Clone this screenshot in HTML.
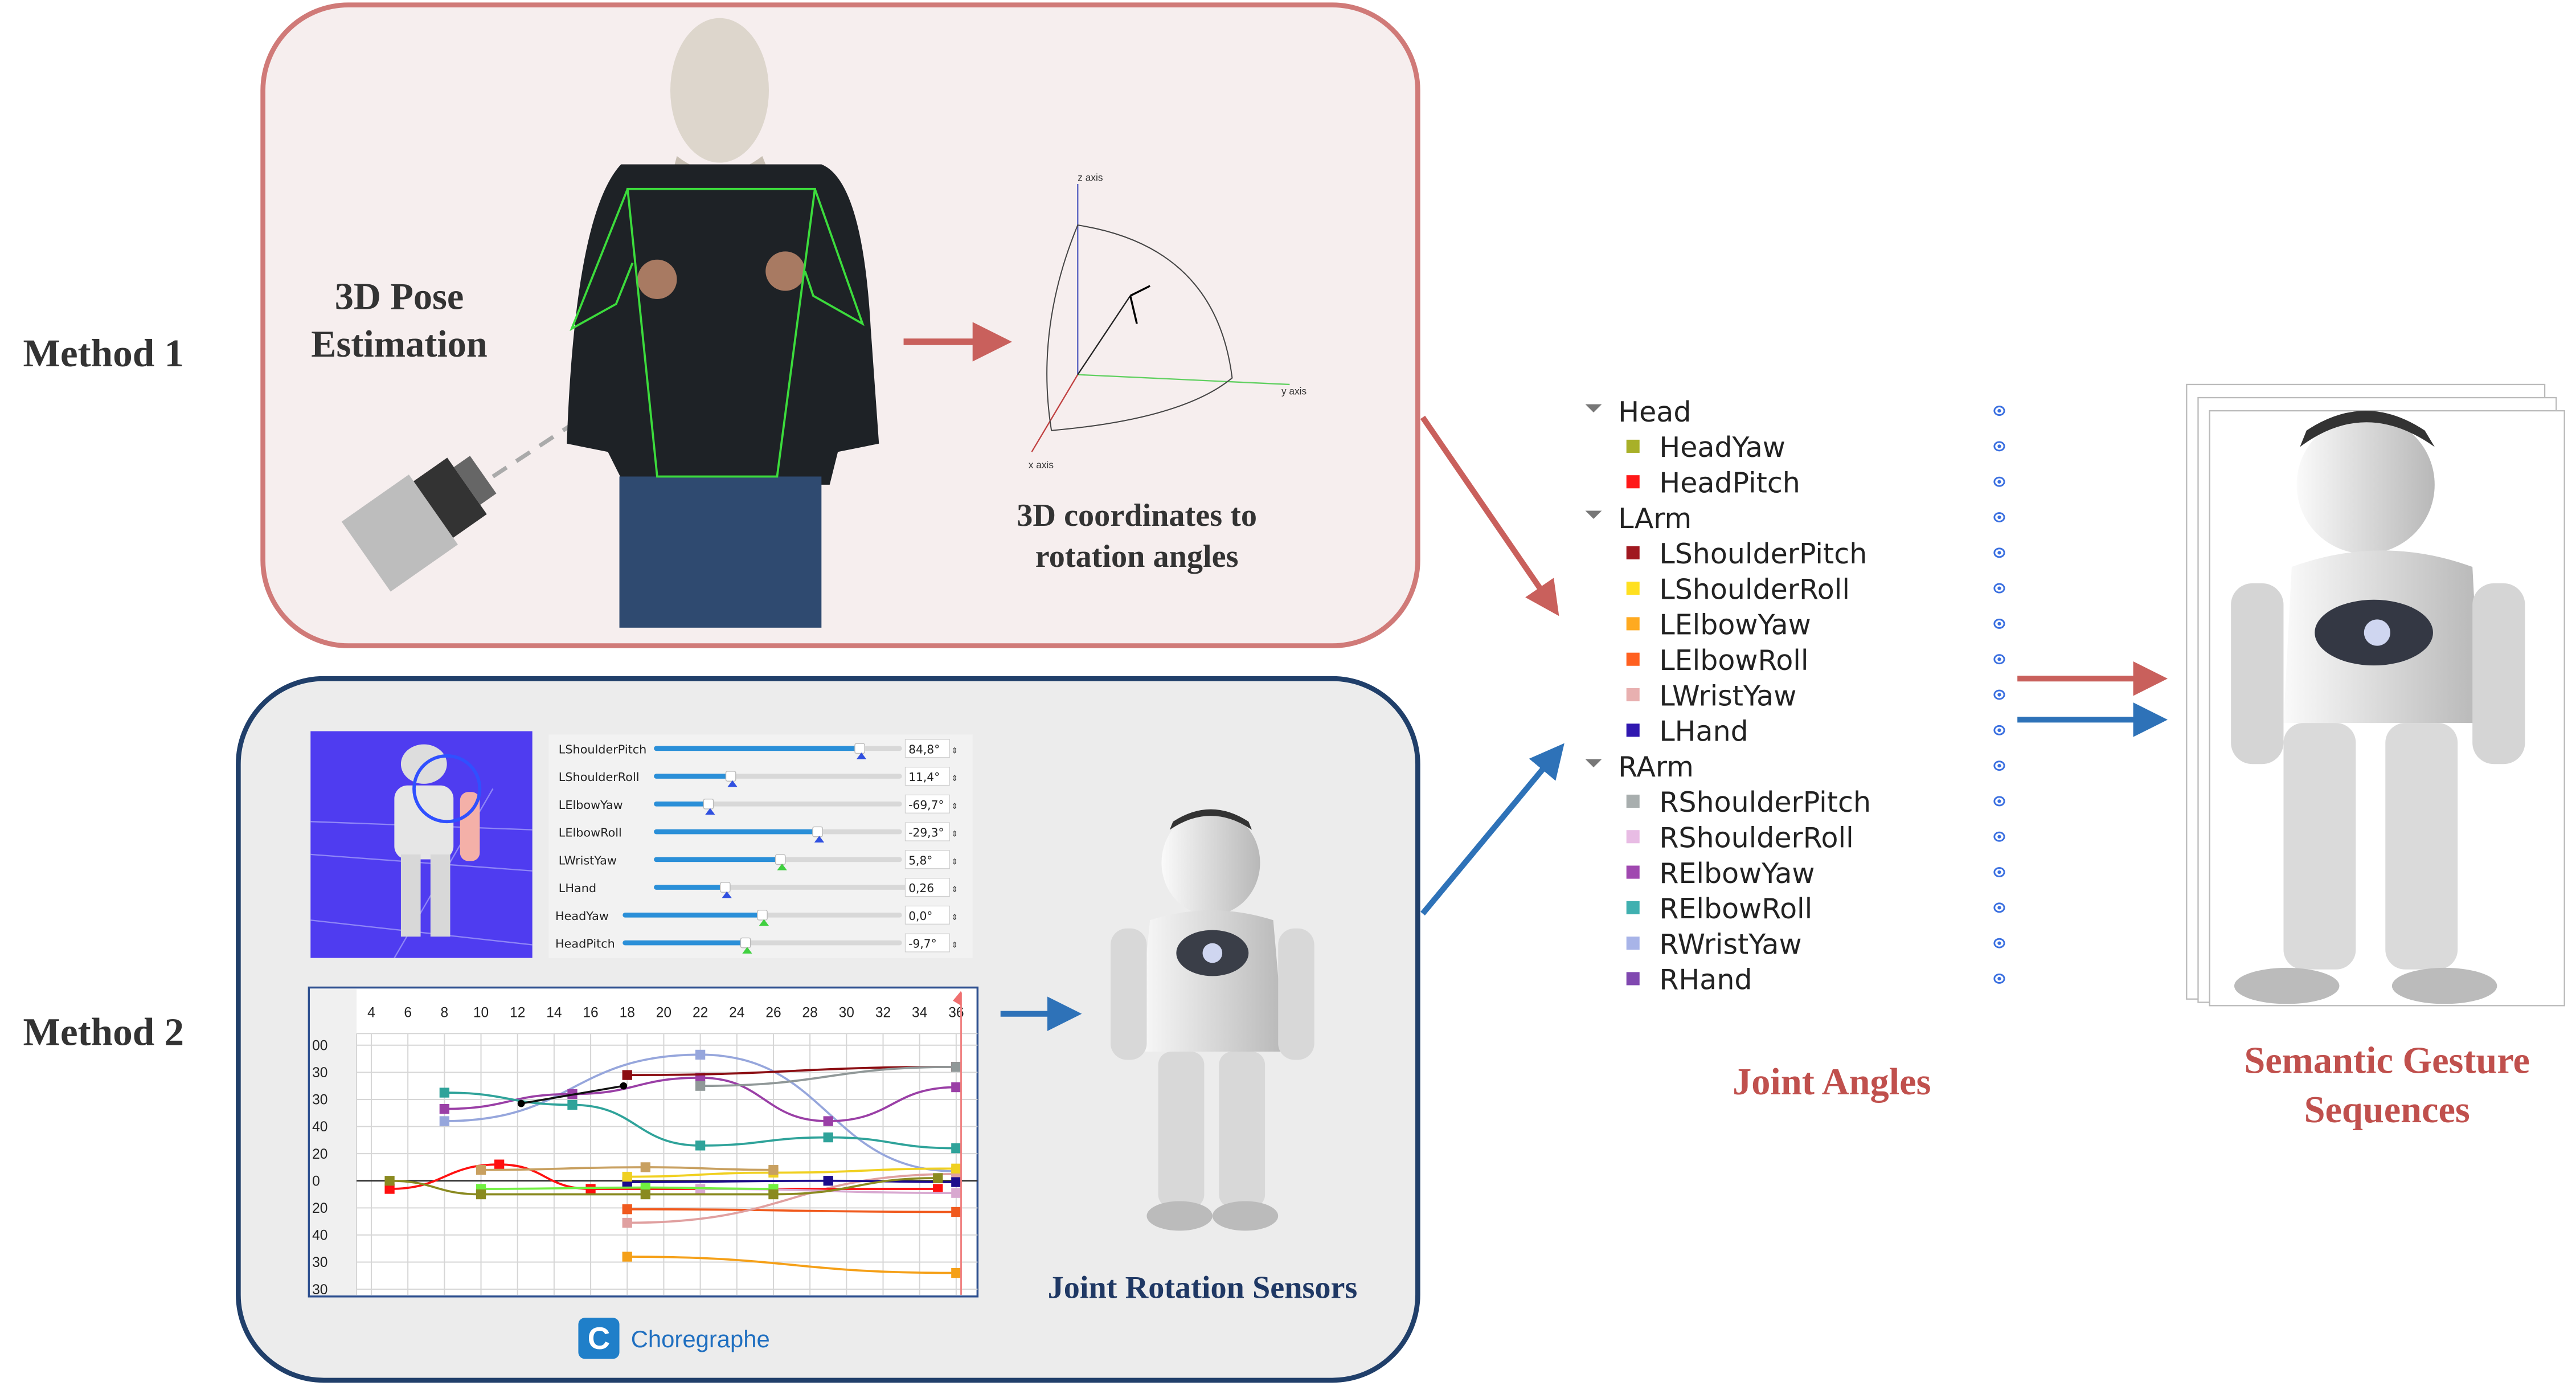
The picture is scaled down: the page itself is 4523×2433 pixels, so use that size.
<!DOCTYPE html>
<html><head><meta charset="utf-8"><style>
html,body{margin:0;padding:0;background:#fff;}
svg{display:block;}
.ser{font-family:"Liberation Serif",serif;font-weight:bold;}
.sans{font-family:"DejaVu Sans","Liberation Sans",sans-serif;}
</style></head><body>
<svg id="root" width="4523" height="2433" viewBox="0 0 1568 843.5" xmlns="http://www.w3.org/2000/svg">
<defs>
<marker id="ar" markerWidth="6" markerHeight="6" refX="5" refY="3" orient="auto" markerUnits="strokeWidth"><path d="M0,0 L6,3 L0,6 z" fill="#c9605c"/></marker>
<marker id="ab" markerWidth="6" markerHeight="6" refX="5" refY="3" orient="auto" markerUnits="strokeWidth"><path d="M0,0 L6,3 L0,6 z" fill="#2e72b8"/></marker>
<linearGradient id="rg" x1="0" x2="1"><stop offset="0" stop-color="#fafafa"/><stop offset="1" stop-color="#b8b8b8"/></linearGradient>
</defs>

<text class="ser" x="14" y="223" font-size="24" fill="#333">Method 1</text>
<text class="ser" x="14" y="636" font-size="24" fill="#333">Method 2</text>

<g>
<rect x="160" y="3" width="703" height="390" rx="52" fill="#f6eeee" stroke="#d07a78" stroke-width="3"/>
<text class="ser" x="243" y="188" font-size="23" text-anchor="middle" fill="#333">3D Pose</text>
<text class="ser" x="243" y="217" font-size="23" text-anchor="middle" fill="#333">Estimation</text>
<g>
<g transform="rotate(-35 255 315)"><rect x="215" y="290" width="50" height="52" fill="#bdbdbd"/><rect x="265" y="295" width="25" height="42" fill="#333"/><rect x="290" y="302" width="12" height="28" fill="#666"/></g>
<line x1="300" y1="290" x2="440" y2="198" stroke="#aaa" stroke-width="2.5" stroke-dasharray="10,7"/>
</g>
<g>
<ellipse cx="438" cy="55" rx="30" ry="44" fill="#ddd6cc"/>
<path d="M412 95 Q438 115 464 95 L470 110 L408 110z" fill="#c8bfb3"/>
<path d="M378 100 L500 100 Q525 110 530 200 L535 270 L510 275 L505 295 L380 295 L370 275 L345 270 Q350 130 378 100z" fill="#1e2226"/>
<rect x="377" y="290" width="123" height="92" fill="#2f4a70"/>
<circle cx="400" cy="170" r="12" fill="#a87a62"/><circle cx="478" cy="165" r="12" fill="#a87a62"/>
<g stroke="#3cdc3c" stroke-width="1.3" fill="none"><path d="M382 115 L496 115 L473 290 L400 290z"/><path d="M382 115 L348 200 L375 185 L385 160"/><path d="M496 115 L525 197 L495 180 L490 165"/></g>
</g>
<line x1="550" y1="208" x2="612" y2="208" stroke="#c9605c" stroke-width="4" marker-end="url(#ar)"/>
<g font-family="Liberation Sans,sans-serif" font-size="6" fill="#333">
<line x1="656" y1="112" x2="656" y2="228" stroke="#5560c0" stroke-width="0.8"/>
<line x1="656" y1="228" x2="785" y2="234" stroke="#60d060" stroke-width="0.8"/>
<line x1="656" y1="228" x2="628" y2="275" stroke="#c04040" stroke-width="0.8"/>
<path d="M656 137 Q740 150 750 230 Q720 255 640 262 Q630 200 656 137z" fill="none" stroke="#444" stroke-width="0.7"/>
<line x1="656" y1="228" x2="688" y2="180" stroke="#222" stroke-width="0.8"/>
<path d="M688 180 L700 174 M688 180 L692 197" stroke="#000" stroke-width="1.2"/>
<text x="656" y="110">z axis</text><text x="780" y="240">y axis</text><text x="626" y="285">x axis</text>
</g>
<text class="ser" x="692" y="320" font-size="19.5" text-anchor="middle" fill="#333">3D coordinates to</text>
<text class="ser" x="692" y="345" font-size="19.5" text-anchor="middle" fill="#333">rotation angles</text>
</g>

<g>
<rect x="145" y="413" width="718" height="427" rx="52" fill="#ececec" stroke="#203f6a" stroke-width="3"/>
<g>
<rect x="189" y="445" width="135" height="138" fill="#4f3cf0"/>
<g stroke="#8f86f7" stroke-width="0.8"><line x1="189" y1="560" x2="324" y2="575"/><line x1="189" y1="520" x2="324" y2="530"/><line x1="189" y1="500" x2="324" y2="505"/><line x1="240" y1="583" x2="300" y2="480"/></g>
<ellipse cx="258" cy="465" rx="14" ry="12" fill="#ddd"/>
<rect x="240" y="478" width="36" height="45" rx="8" fill="#e6e6e6"/>
<rect x="244" y="520" width="12" height="50" fill="#d8d8d8"/><rect x="262" y="520" width="12" height="50" fill="#d8d8d8"/>
<rect x="280" y="482" width="12" height="42" rx="5" fill="#f4b0a8"/>
<circle cx="272" cy="480" r="20" fill="none" stroke="#3050ff" stroke-width="2"/>
</g>
<g id="sliders" class="sans"></g>
<g id="chart"></g>
<g>
<rect x="352" y="802" width="25" height="25" rx="4" fill="#1f7fc9"/>
<text x="364.5" y="821" font-family="Liberation Sans,sans-serif" font-size="19" font-weight="bold" text-anchor="middle" fill="#fff">C</text>
<text x="384" y="820" font-family="Liberation Sans,sans-serif" font-size="14.5" fill="#1f6fc0">Choregraphe</text>
</g>
<line x1="609" y1="617" x2="655" y2="617" stroke="#2e72b8" stroke-width="3.5" marker-end="url(#ab)"/>
<g>
<ellipse cx="737" cy="525" rx="30" ry="32" fill="url(#rg)"/>
<path d="M712 505 Q737 488 762 505 L760 500 Q737 485 714 500z" fill="#333"/>
<path d="M700 560 Q737 548 775 560 L782 640 L692 640z" fill="url(#rg)"/>
<ellipse cx="738" cy="580" rx="22" ry="14" fill="#3a3e48"/>
<circle cx="738" cy="580" r="6" fill="#cfd6f0"/>
<rect x="676" y="565" width="22" height="80" rx="10" fill="#d8d8d8"/><rect x="778" y="565" width="22" height="80" rx="10" fill="#d8d8d8"/>
<rect x="705" y="640" width="28" height="95" rx="8" fill="#d8d8d8"/><rect x="742" y="640" width="28" height="95" rx="8" fill="#d8d8d8"/>
<ellipse cx="718" cy="740" rx="20" ry="9" fill="#bbb"/><ellipse cx="758" cy="740" rx="20" ry="9" fill="#bbb"/>
</g>
<text class="ser" x="732" y="790" font-size="19.5" text-anchor="middle" fill="#1f3864">Joint Rotation Sensors</text>
</g>

<line x1="866" y1="254" x2="947" y2="372" stroke="#c9605c" stroke-width="3.5" marker-end="url(#ar)"/>
<line x1="866" y1="556" x2="950" y2="455" stroke="#2e72b8" stroke-width="3.5" marker-end="url(#ab)"/>

<g id="joints" class="sans"></g>
<text class="ser" x="1115" y="666" font-size="23" text-anchor="middle" fill="#c0504d">Joint Angles</text>

<line x1="1228" y1="413" x2="1316" y2="413" stroke="#c9605c" stroke-width="3.5" marker-end="url(#ar)"/>
<line x1="1228" y1="438" x2="1316" y2="438" stroke="#2e72b8" stroke-width="3.5" marker-end="url(#ab)"/>

<g>
<rect x="1331" y="234" width="218" height="374" fill="#fff" stroke="#bbb" stroke-width="0.8"/>
<rect x="1338" y="242" width="218" height="368" fill="#fff" stroke="#bbb" stroke-width="0.8"/>
<rect x="1345" y="250" width="216" height="362" fill="#fff" stroke="#bbb" stroke-width="0.8"/>
<ellipse cx="1440" cy="295" rx="42" ry="42" fill="url(#rg)"/>
<path d="M1400 272 Q1440 242 1482 272 L1476 262 Q1440 238 1404 262z" fill="#333"/>
<path d="M1395 345 Q1450 325 1505 345 L1510 440 L1390 440z" fill="url(#rg)"/>
<ellipse cx="1445" cy="385" rx="36" ry="20" fill="#343844"/>
<circle cx="1447" cy="385" r="8" fill="#cfd6f0"/>
<rect x="1358" y="355" width="32" height="110" rx="13" fill="#d5d5d5"/><rect x="1505" y="355" width="32" height="110" rx="13" fill="#d5d5d5"/>
<rect x="1390" y="440" width="44" height="150" rx="12" fill="#dadada"/><rect x="1452" y="440" width="44" height="150" rx="12" fill="#dadada"/>
<ellipse cx="1392" cy="600" rx="32" ry="11" fill="#bbb"/><ellipse cx="1488" cy="600" rx="32" ry="11" fill="#bbb"/>
</g>
<text class="ser" x="1453" y="653" font-size="23" text-anchor="middle" fill="#c0504d">Semantic Gesture</text>
<text class="ser" x="1453" y="683" font-size="23" text-anchor="middle" fill="#c0504d">Sequences</text>
</svg>
<script>
const NS='http://www.w3.org/2000/svg';
const tickLabels=[4,6,8,10,12,14,16,18,20,22,24,26,28,30,32,34,36];
const yTickLabels=['00','30','30','40','20','0','20','40','30','30'];
const yTickValues=[100,80,60,40,20,0,-20,-40,-60,-80];
const seriesColors=['#96a6dc','#9a3fa6','#2fa39a','#8b0d12','#909898','#f5a018','#f05a1e','#e0a0a0','#ff1010','#d8a8d0','#1c0c8c','#f0d020','#c8a060','#70f040','#8a8a20'];
const seriesTimes=[[8,22,36],[8,15,22,29,36],[8,15,22,29,36],[18,36],[22,36],[18,36],[18,36],[18,36],[5,11,16,35],[22,36],[18,29,36],[18,26,36],[10,19,26],[10,19,26],[5,10,19,26,35]];
const seriesValues=[[44,93,7],[53,64,76,44,69],[65,56,26,32,24],[78,84],[70,84],[-56,-68],[-21,-23],[-31,5],[-6,12,-6,-6],[-6,-9],[-1,0,-1],[3,6,9],[8,10,8],[-6,-5,-6],[0,-10,-10,-10,2]];
const blackTimes=[12.2,17.8];
const blackValues=[57,70];
const sliderNames=['LShoulderPitch','LShoulderRoll','LElbowYaw','LElbowRoll','LWristYaw','LHand','HeadYaw','HeadPitch'];
const sliderValues=['84,8°','11,4°','-69,7°','-29,3°','5,8°','0,26','0,0°','-9,7°'];
const sliderFractions=[0.83,0.31,0.22,0.66,0.51,0.28,0.5,0.44];
const jointNames=['Head','HeadYaw','HeadPitch','LArm','LShoulderPitch','LShoulderRoll','LElbowYaw','LElbowRoll','LWristYaw','LHand','RArm','RShoulderPitch','RShoulderRoll','RElbowYaw','RElbowRoll','RWristYaw','RHand'];
const jointColors=[null,'#a8b028','#ff1818',null,'#a01820','#ffe020','#ffaa20','#ff6020','#e8b0b0','#3018b0',null,'#a8aeae','#e8bce4','#a048b0','#40b0b0','#a8b4e8','#8048b0'];

function mk(tag,attrs,parent){const e=document.createElementNS(NS,tag);for(const k in attrs)e.setAttribute(k,attrs[k]);parent.appendChild(e);return e;}

const chart=document.getElementById('chart');
const X0=226,X1=582,Y0=718.6;
function xs(t){return X0+(t-4)*(X1-X0)/32;}
function ys(v){return Y0-v*0.825;}
let r=mk('rect',{x:188,y:601,width:407,height:188,fill:'#fff',stroke:'#2d4f8f','stroke-width':1.2},chart);


mk('rect',{x:189,y:602,width:28,height:186,fill:'#f0f0f0'},chart);
tickLabels.forEach(t=>{
  mk('line',{x1:xs(t),y1:629,x2:xs(t),y2:788,stroke:'#d6d6d6','stroke-width':0.7},chart);
  const tx=mk('text',{x:xs(t),y:619,'font-size':8.5,'text-anchor':'middle','font-family':'Liberation Sans,sans-serif',fill:'#222'},chart);
  tx.textContent=t;
  
  
});
mk('line',{x1:217,y1:629,x2:595,y2:629,stroke:'#d6d6d6','stroke-width':0.7},chart);
mk('line',{x1:217,y1:629,x2:217,y2:788,stroke:'#d6d6d6','stroke-width':0.7},chart);
yTickValues.forEach((v,i)=>{
  mk('line',{x1:217,y1:ys(v),x2:595,y2:ys(v),stroke:v===0?'#333':'#d6d6d6','stroke-width':v===0?1:0.7},chart);
  const tx=mk('text',{x:190,y:ys(v)+3,'font-size':8.5,'font-family':'Liberation Sans,sans-serif',fill:'#222'},chart);
  tx.textContent=yTickLabels[i];
  
  
});
function smooth(pts){let d='M'+pts[0][0]+','+pts[0][1];for(let i=1;i<pts.length;i++){const a=pts[i-1],b=pts[i],mx=(a[0]+b[0])/2;d+=' C'+mx+','+a[1]+' '+mx+','+b[1]+' '+b[0]+','+b[1];}return d;}
seriesTimes.forEach((ts,si)=>{
  const pts=ts.map((t,i)=>[xs(t),ys(seriesValues[si][i])]);
  const p=mk('path',{d:smooth(pts),fill:'none',stroke:seriesColors[si],'stroke-width':1.3},chart);
  
  
  pts.forEach(q=>{
    const m=mk('rect',{x:q[0]-3,y:q[1]-3,width:6,height:6,fill:seriesColors[si]},chart);
    
    
  });
});
const bp=blackTimes.map((t,i)=>[xs(t),ys(blackValues[i])]);
mk('path',{d:'M'+bp[0].join(',')+' L'+bp[1].join(','),stroke:'#111','stroke-width':1.2},chart);
bp.forEach(q=>{const c=mk('circle',{cx:q[0],cy:q[1],r:2.2,fill:'#000'},chart);});
mk('line',{x1:585,y1:604,x2:585,y2:788,stroke:'#f08080','stroke-width':1},chart);
mk('path',{d:'M585 603 L580 609 L585 612z',fill:'#f07070'},chart);

const sl=document.getElementById('sliders');
mk('rect',{x:334,y:447,width:258,height:136,fill:'#f2f2f2'},sl);
sliderNames.forEach((n,i)=>{
  const y=456+i*16.9, head=i>=6;
  const x0=head?379:398, x1=i===5?553:549;
  const t=mk('text',{x:head?338:340,y:y+2.5,'font-size':7.2,fill:'#222'},sl);
  t.textContent=n;
  
  
  mk('rect',{x:x0,y:y-2,width:x1-x0,height:3,rx:1.5,fill:'#d8d8d8'},sl);
  const kx=x0+(x1-x0)*sliderFractions[i];
  mk('rect',{x:x0,y:y-2,width:kx-x0,height:3,rx:1.5,fill:'#2a8fd8'},sl);
  const k=mk('rect',{x:kx-3,y:y-3.5,width:6,height:6,rx:1,fill:'#fff',stroke:'#bbb','stroke-width':0.5},sl);
  
  
  mk('path',{d:`M${kx-2},${y+6} L${kx+4},${y+6} L${kx+1},${y+2}z`,fill:i===4||i>=6?'#40d040':'#3050e0'},sl);
  const b=mk('rect',{x:551,y:y-6,width:27,height:11,fill:'#fff',stroke:'#ccc','stroke-width':0.4},sl);
  
  
  const v=mk('text',{x:553,y:y+2.5,'font-size':7,fill:'#222'},sl);
  v.textContent=sliderValues[i];
  mk('text',{x:579,y:y+2.5,'font-size':5,fill:'#444'},sl).textContent='⇕';
});

const jt=document.getElementById('joints');
jointNames.forEach((n,i)=>{
  const y=250+i*21.6, grp=jointColors[i]===null;
  if(grp){mk('path',{d:`M965 ${y-4} L975 ${y-4} L970 ${y+1}z`,fill:'#777'},jt);}
  else{const s=mk('rect',{x:990,y:y-4,width:8,height:8,fill:jointColors[i]},jt);}
  const t=mk('text',{x:grp?985:1010,y:y+6.5,'font-size':17,fill:'#222'},jt);
  t.textContent=n;
  
  
  const e=mk('ellipse',{cx:1217,cy:y,rx:3,ry:2.6,fill:'none',stroke:'#3a6fe0','stroke-width':1},jt);
  
  
  mk('circle',{cx:1217,cy:y,r:1.1,fill:'#3a6fe0'},jt);
});
</script>
</body></html>
